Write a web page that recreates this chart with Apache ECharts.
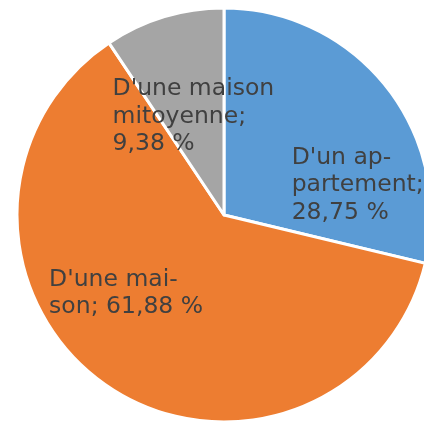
<!DOCTYPE html>
<html>
<head>
<meta charset="utf-8">
<script src="https://cdn.jsdelivr.net/npm/echarts@6/dist/echarts.min.js"></script>
<style>
  html, body { margin: 0; padding: 0; background: #fff; }
  #chart { width: 424px; height: 421px; }
</style>
</head>
<body>
<div id="chart"></div>
<script>
const categories = ["D'un appartement", "D'une maison", "D'une maison mitoyenne"];
const values = [28.75, 61.88, 9.38];
// label lines as hyphenated in the original; the value goes on the last line
const labelLines = [
  ["D'un ap-", "partement;", ""],
  ["D'une mai-", "son; "],
  ["D'une maison", "mitoyenne;", ""]
];
const colors = ["#5B9BD5", "#ED7D31", "#A5A5A5"];
// shift of each label from its default inside spot
const labelShift = [[69, 36], [-29, -9], [4.5, 3.5]];

const chart = echarts.init(document.getElementById("chart"));

const fmt = v => v.toFixed(2).replace(".", ",") + " %";

chart.setOption({
  animation: false,
  series: [{
    type: "pie",
    center: [224, 215],
    radius: 207,
    startAngle: 90,
    clockwise: true,
    data: categories.map((name, i) => ({
      name: name,
      value: values[i],
      itemStyle: { color: colors[i] }
    })),
    itemStyle: { borderColor: "#fff", borderWidth: 3 },
    label: {
      position: "inside",
      formatter: p => {
        const lines = labelLines[p.dataIndex].slice();
        lines[lines.length - 1] += fmt(p.value);
        return lines.map(l => "{t|" + l + "}").join("\n");
      },
      rich: {
        t: {
          width: 170,
          align: "left",
          fontFamily: "DejaVu Sans",
          fontSize: 23.5,
          lineHeight: 27.5,
          color: "#404040"
        }
      }
    },
    labelLine: { show: false },
    labelLayout: p => ({ dx: labelShift[p.dataIndex][0], dy: labelShift[p.dataIndex][1] })
  }]
});
</script>
</body>
</html>
